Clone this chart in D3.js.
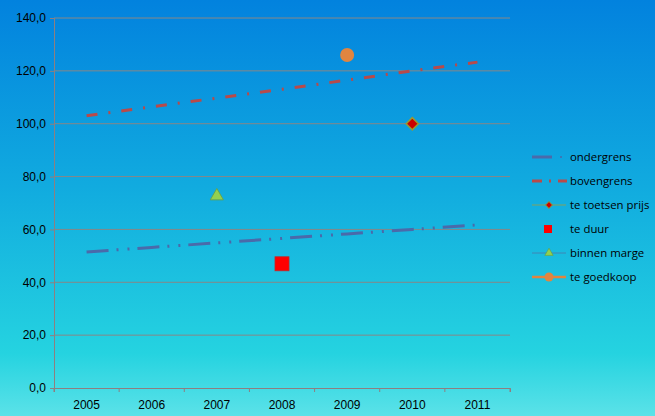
<!DOCTYPE html>
<html>
<head>
<meta charset="utf-8">
<script src="https://cdn.jsdelivr.net/npm/d3@7"></script>
<style>
  body { margin: 0; padding: 0; overflow: hidden; }
  svg { display: block; font-family: "Open Sans", "Noto Sans", sans-serif; }
</style>
</head>
<body>
<svg width="655" height="416"></svg>
<script>
let width = 655;
let height = 416;
let margin = { top: 18, right: 145, bottom: 28, left: 54 };

// data
let years = ["2005", "2006", "2007", "2008", "2009", "2010", "2011"];
let ondergrens = [51.5, 53.2, 54.9, 56.6, 58.3, 60.0, 61.7];
let bovengrens = [103.0, 106.4, 109.7, 113.0, 116.5, 120.0, 123.3];
let toetsenPrijs = [{ year: "2010", value: 100 }];
let teDuur = [{ year: "2008", value: 47 }];
let binnenMarge = [{ year: "2007", value: 73 }];
let teGoedkoop = [{ year: "2009", value: 126 }];
let yTicks = [0, 20, 40, 60, 80, 100, 120, 140];

let svg = d3.select("svg");

let defs = svg.append("defs");
let grad = defs.append("linearGradient")
    .attr("id", "bg")
    .attr("x1", 0).attr("y1", 0).attr("x2", 0).attr("y2", 1);
grad.append("stop").attr("offset", "0%").attr("stop-color", "#0282de");
grad.append("stop").attr("offset", "45%").attr("stop-color", "#11abdf");
grad.append("stop").attr("offset", "85%").attr("stop-color", "#25d3e0");
grad.append("stop").attr("offset", "100%").attr("stop-color", "#5be2e8");

svg.append("rect")
    .attr("width", width)
    .attr("height", height)
    .attr("fill", "url(#bg)");

let x = d3.scaleBand()
    .domain(years)
    .range([margin.left, width - margin.right])
    .padding(0);

let y = d3.scaleLinear()
    .domain([0, 140])
    .range([height - margin.bottom, margin.top]);

// gridlines
svg.append("g")
    .selectAll("line")
    .data(yTicks.filter(d => d > 0))
    .join("line")
    .attr("x1", margin.left)
    .attr("x2", width - margin.right)
    .attr("y1", d => y(d))
    .attr("y2", d => y(d))
    .attr("stroke", "#878787")
    .attr("stroke-width", 1);

let yAxisSettings = d3.axisLeft(y)
    .tickValues(yTicks)
    .tickSize(4)
    .tickPadding(4)
    .tickFormat(d => d3.format(".1f")(d).replace(".", ","));

let xAxisSettings = d3.axisBottom(x)
    .tickSize(4)
    .tickPadding(8)
    .tickSizeOuter(4);

let yAxisTicks = svg.append("g")
    .attr("class", "y axis")
    .attr("transform", `translate(${margin.left},0)`)
    .call(yAxisSettings);

let xAxisTicks = svg.append("g")
    .attr("class", "x axis")
    .attr("transform", `translate(0,${height - margin.bottom})`)
    .call(xAxisSettings);

// x ticks at band boundaries
xAxisTicks.selectAll(".tick line").remove();
xAxisTicks.selectAll(".bound")
    .data(years.concat(["end"]))
    .join("line")
    .attr("class", "bound")
    .attr("x1", (d, i) => margin.left + i * x.bandwidth())
    .attr("x2", (d, i) => margin.left + i * x.bandwidth())
    .attr("y1", 0)
    .attr("y2", 4);

svg.selectAll(".axis .domain, .axis line")
    .attr("stroke", "#8e7f80");

svg.selectAll(".axis text")
    .attr("fill", "#000000")
    .style("font-size", "12px");

// lines
let line = d3.line()
    .x((d, i) => x(years[i]) + x.bandwidth() / 2)
    .y(d => y(d));

svg.append("path")
    .datum(ondergrens)
    .attr("d", line)
    .attr("fill", "none")
    .attr("stroke", "#4a6aaa")
    .attr("stroke-width", 3)
    .attr("stroke-dasharray", "22 8 2 9 2 8");

svg.append("path")
    .datum(bovengrens)
    .attr("d", line)
    .attr("fill", "none")
    .attr("stroke", "#b84a4a")
    .attr("stroke-width", 3)
    .attr("stroke-dasharray", "11 11 2 11");

let cx = d => x(d.year) + x.bandwidth() / 2;

svg.selectAll(".tp")
    .data(toetsenPrijs)
    .join("path")
    .attr("class", "tp")
    .attr("d", d3.symbol(d3.symbolDiamond2, 95))
    .attr("transform", d => `translate(${cx(d)},${y(d.value)})`)
    .attr("fill", "#cc0000")
    .attr("stroke", "#9a9a30")
    .attr("stroke-width", 1.5);

svg.selectAll(".td")
    .data(teDuur)
    .join("rect")
    .attr("class", "td")
    .attr("x", d => cx(d) - 7)
    .attr("y", d => y(d.value) - 7)
    .attr("width", 14)
    .attr("height", 14)
    .attr("fill", "#ff0000")
    .attr("stroke", "#c02828")
    .attr("stroke-width", 0.8);

svg.selectAll(".bm")
    .data(binnenMarge)
    .join("path")
    .attr("class", "bm")
    .attr("d", d3.symbol(d3.symbolTriangle, 75))
    .attr("transform", d => `translate(${cx(d)},${y(d.value) + 1})`)
    .attr("fill", "#92d050")
    .attr("stroke", "#6aa040")
    .attr("stroke-width", 0.8);

svg.selectAll(".tg")
    .data(teGoedkoop)
    .join("circle")
    .attr("class", "tg")
    .attr("cx", cx)
    .attr("cy", d => y(d.value))
    .attr("r", 7)
    .attr("fill", "#e08540");

// legend
let legendNames = ["ondergrens", "bovengrens", "te toetsen prijs", "te duur", "binnen marge", "te goedkoop"];
let legendY = [157, 181, 205, 229, 253, 277];
let legend = svg.append("g");

legendNames.forEach(function(name, i) {
    let g = legend.append("g").attr("transform", `translate(530,${legendY[i]})`);
    if (i == 0) {
        g.append("line").attr("x1", 2).attr("x2", 22).attr("stroke", "#4a6aaa").attr("stroke-width", 3);
        g.append("circle").attr("cx", 31).attr("r", 1).attr("fill", "#4a6aaa");
    } else if (i == 1) {
        g.append("line").attr("x1", 2).attr("x2", 12).attr("stroke", "#b84a4a").attr("stroke-width", 3);
        g.append("line").attr("x1", 19).attr("x2", 21).attr("stroke", "#b84a4a").attr("stroke-width", 3);
        g.append("line").attr("x1", 28).attr("x2", 37).attr("stroke", "#b84a4a").attr("stroke-width", 3);
    } else if (i == 2) {
        g.append("line").attr("x1", 2).attr("x2", 36).attr("stroke", "#a0a040").attr("stroke-width", 0.8);
        g.append("path").attr("d", d3.symbol(d3.symbolDiamond2, 30)).attr("transform", "translate(19,0)")
            .attr("fill", "#cc0000").attr("stroke", "#9a9a30").attr("stroke-width", 1);
    } else if (i == 3) {
        g.append("rect").attr("x", 14).attr("y", -4).attr("width", 8).attr("height", 8).attr("fill", "#ff0000");
    } else if (i == 4) {
        g.append("line").attr("x1", 2).attr("x2", 36).attr("stroke", "#4a7aa8").attr("stroke-width", 0.8);
        g.append("path").attr("d", d3.symbol(d3.symbolTriangle, 30)).attr("transform", "translate(19,0)")
            .attr("fill", "#92d050").attr("stroke", "#6aa040").attr("stroke-width", 0.6);
    } else {
        g.append("line").attr("x1", 2).attr("x2", 36).attr("stroke", "#e08540").attr("stroke-width", 2.5);
        g.append("circle").attr("cx", 19).attr("r", 4.5).attr("fill", "#e08540");
    }
    g.append("text")
        .attr("x", 40)
        .attr("dy", "0.35em")
        .style("font-size", "11.4px")
        .attr("fill", "#000000")
        .text(name);
});
</script>
</body>
</html>
